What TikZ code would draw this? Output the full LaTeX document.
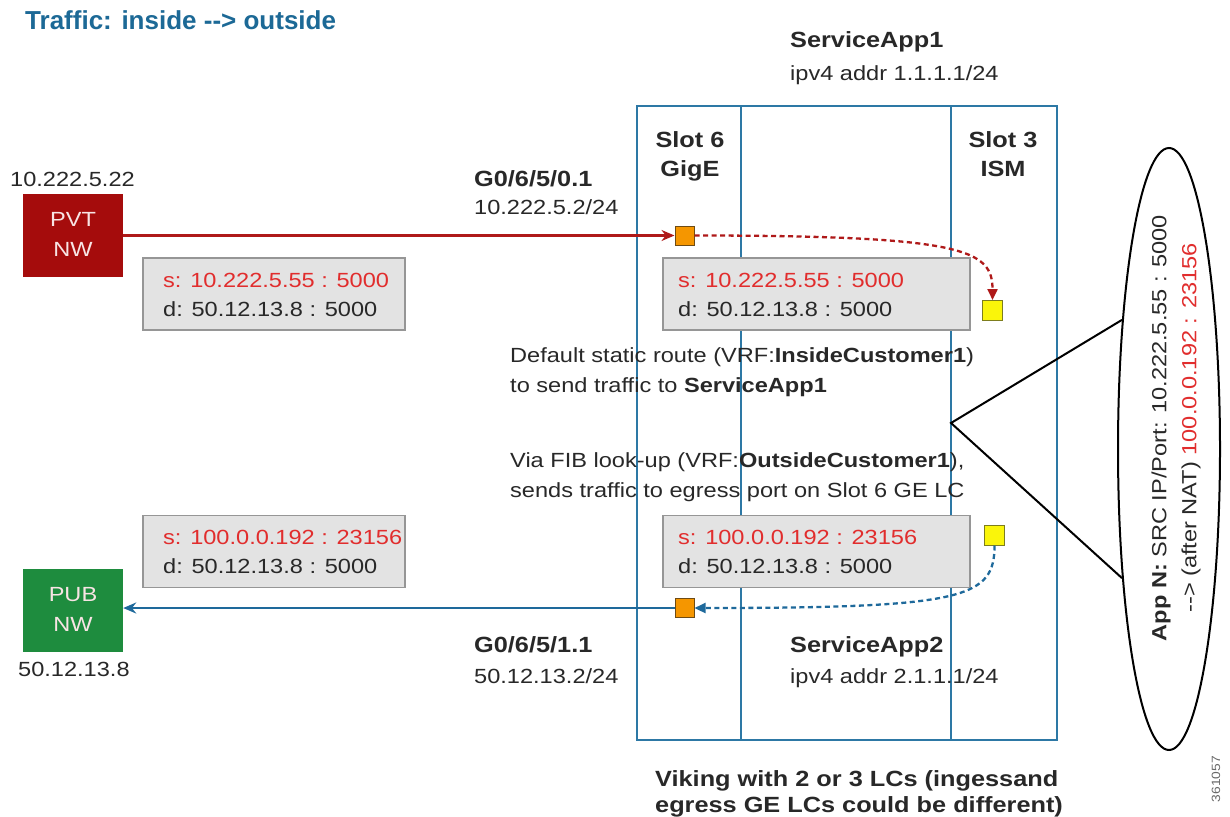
\documentclass[tikz,border=0pt]{standalone}
\usepackage{fontspec}
\setmainfont{Liberation Sans}[FakeStretch=1.15]
\newfontfamily\titlefont{Liberation Sans}
\usetikzlibrary{shapes.geometric,arrows.meta}
\definecolor{titleblue}{RGB}{28,105,150}
\definecolor{chassis}{RGB}{45,120,165}
\definecolor{pvtred}{RGB}{165,12,12}
\definecolor{arrowred}{RGB}{175,25,25}
\definecolor{pubgreen}{RGB}{30,140,62}
\definecolor{arrowblue}{RGB}{30,105,155}
\definecolor{boxgray}{RGB}{227,227,227}
\definecolor{boxedge}{RGB}{150,150,150}
\definecolor{srcred}{RGB}{225,45,45}
\definecolor{txt}{RGB}{40,40,40}
\definecolor{portorange}{RGB}{245,150,0}
\definecolor{portyellow}{RGB}{250,245,10}
\tikzset{
  reg/.style={font=\fontsize{20.5}{24}\selectfont, text=txt, inner sep=0pt, anchor=base west},
  bld/.style={font=\fontsize{22}{26}\selectfont\bfseries, text=txt, inner sep=0pt, anchor=base west},
  slotlbl/.style={font=\fontsize{22}{29}\selectfont\bfseries, text=txt, inner sep=0pt, anchor=base},
  netbox/.style={minimum width=100, minimum height=83, inner sep=0pt, align=center,
     text={rgb,255:red,248;green,228;blue,228}, font=\fontsize{20.5}{30}\selectfont},
  pktbox/.style={draw=boxedge, line width=1.2pt, fill=boxgray, minimum width=262, minimum height=72, inner sep=0pt},
  pktboxwide/.style={pktbox, minimum width=307},
  port/.style={draw={rgb,255:red,110;green,75;blue,20}, line width=1pt, fill=portorange, minimum size=19, inner sep=0pt},
  ism/.style={draw={rgb,255:red,125;green,125;blue,30}, line width=1pt, fill=portyellow, minimum size=20, inner sep=0pt},
  chassisline/.style={draw=chassis, line width=2.4pt},
  redflow/.style={draw=arrowred, line width=2.3pt},
  blueflow/.style={draw=arrowblue, line width=2.3pt},
  dashflow/.style={line width=2.3pt, dash pattern=on 5pt off 3.5pt},
}
\begin{document}
\begin{tikzpicture}[x=1pt,y=-1pt]
\useasboundingbox (0,0) rectangle (1230,816);
\fill[white] (0,0) rectangle (1230,816);

% title
\node[inner sep=0pt, anchor=base west, text=titleblue, font=\fontsize{26}{30}\titlefont\bfseries] (title) at (25,30) {Traffic: inside -{}-> outside};

% chassis
\draw[chassisline] (637,106) rectangle (1057,740);
\draw[chassisline] (741,106) -- (741,740);
\draw[chassisline] (951,106) -- (951,740);
\node[slotlbl] (slot6a) at (690,147) {Slot 6};
\node[slotlbl] (slot6b) at (690,176) {GigE};
\node[slotlbl] (slot3a) at (1003,147) {Slot 3};
\node[slotlbl] (slot3b) at (1003,176) {ISM};

% service apps
\node[bld] (sa1) at (790,48) {ServiceApp1};
\node[reg] (sa1ip) at (790,80) {ipv4 addr 1.1.1.1/24};
\node[bld] (sa2) at (790,652) {ServiceApp2};
\node[reg] (sa2ip) at (790,683) {ipv4 addr 2.1.1.1/24};

% private network
\node[reg] (pvtip) at (10,186) {10.222.5.22};
\node[netbox, fill=pvtred] (pvt) at (73,235.5) {\raisebox{3pt}{PVT}\\\raisebox{3pt}{NW}};
\node[bld] (g01) at (474,186) {G0/6/5/0.1};
\node[reg] (g01ip) at (474,214) {10.222.5.2/24};

% public network
\node[netbox, fill=pubgreen] (pub) at (73,610.5) {\raisebox{3pt}{PUB}\\\raisebox{3pt}{NW}};
\node[reg] (pubip) at (18,676) {50.12.13.8};
\node[bld] (g11) at (474,652) {G0/6/5/1.1};
\node[reg] (g11ip) at (474,683) {50.12.13.2/24};

% packet boxes
\node[pktbox] (b1) at (274,294) {};
\node[reg, text=srcred] (b1s) at (163,287) {s: 10.222.5.55 : 5000};
\node[reg] (b1d) at (163,316) {d: 50.12.13.8 : 5000};
\node[pktboxwide] (b2) at (816.5,294) {};
\node[reg, text=srcred] (b2s) at (678,287) {s: 10.222.5.55 : 5000};
\node[reg] (b2d) at (678,316) {d: 50.12.13.8 : 5000};
\node[pktbox] (b3) at (274,551.5) {};
\node[reg, text=srcred] (b3s) at (163,544) {s: 100.0.0.192 : 23156};
\node[reg] (b3d) at (163,573) {d: 50.12.13.8 : 5000};
\node[pktboxwide] (b4) at (816.5,551.5) {};
\node[reg, text=srcred] (b4s) at (678,544) {s: 100.0.0.192 : 23156};
\node[reg] (b4d) at (678,573) {d: 50.12.13.8 : 5000};

% ports
\node[port] (o1) at (684.5,235.5) {};
\node[port] (o2) at (684.5,608) {};
\node[ism] (y1) at (992.5,310.5) {};
\node[ism] (y2) at (994.5,535) {};

% flows
\draw[redflow, -{Stealth[length=13pt,width=11pt]}] (pvt.east |- o1) -- (o1.west);
\draw[redflow, dashflow, -{Triangle[length=11pt,width=10pt]}] (o1.east) .. controls (965,235.5) and (992.5,250) .. (y1.north);
\draw[blueflow, dashflow, -{Triangle[length=11pt,width=10pt]}] (y2.south) .. controls (994.5,598) and (965,608) .. (o2.east);
\draw[blueflow, -{Stealth[length=13pt,width=11pt]}] (o2.west) -- (pub.east |- o2);

% explanations
\node[reg] (t1) at (510,362) {Default static route (VRF:\textbf{InsideCustomer1})};
\node[reg] (t2) at (510,392) {to send traffic to \textbf{ServiceApp1}};
\node[reg] (t3) at (510,467) {Via FIB look-up (VRF:\textbf{OutsideCustomer1}),};
\node[reg] (t4) at (510,497) {sends traffic to egress port on Slot 6 GE LC};

% app ellipse with callout
\node[ellipse, draw=black, line width=2pt, minimum width=102, minimum height=602, inner sep=0pt] (app) at (1169,449) {};
\coordinate (apex) at (951,423);
\draw[black, line width=2pt, line join=miter] (app.110) -- (apex) -- (app.250);
\node[rotate=90, align=center, inner sep=0pt, text=txt, font=\fontsize{20.5}{30}\selectfont] (apptext) at (1176,428)
  {\textbf{App N:} SRC IP/Port: 10.222.5.55 : 5000\\-{}-> (after NAT) \textcolor{srcred}{100.0.0.192 : 23156}};

% bottom caption
\node[bld] (cap1) at (655,786) {Viking with 2 or 3 LCs (ingessand};
\node[bld] (cap2) at (655,812) {egress GE LCs could be different)};
\node[rotate=90, inner sep=0pt, text=txt!70, font=\fontsize{12}{14}\selectfont] (fig) at (1216,779) {361057};
\end{tikzpicture}
\end{document}
